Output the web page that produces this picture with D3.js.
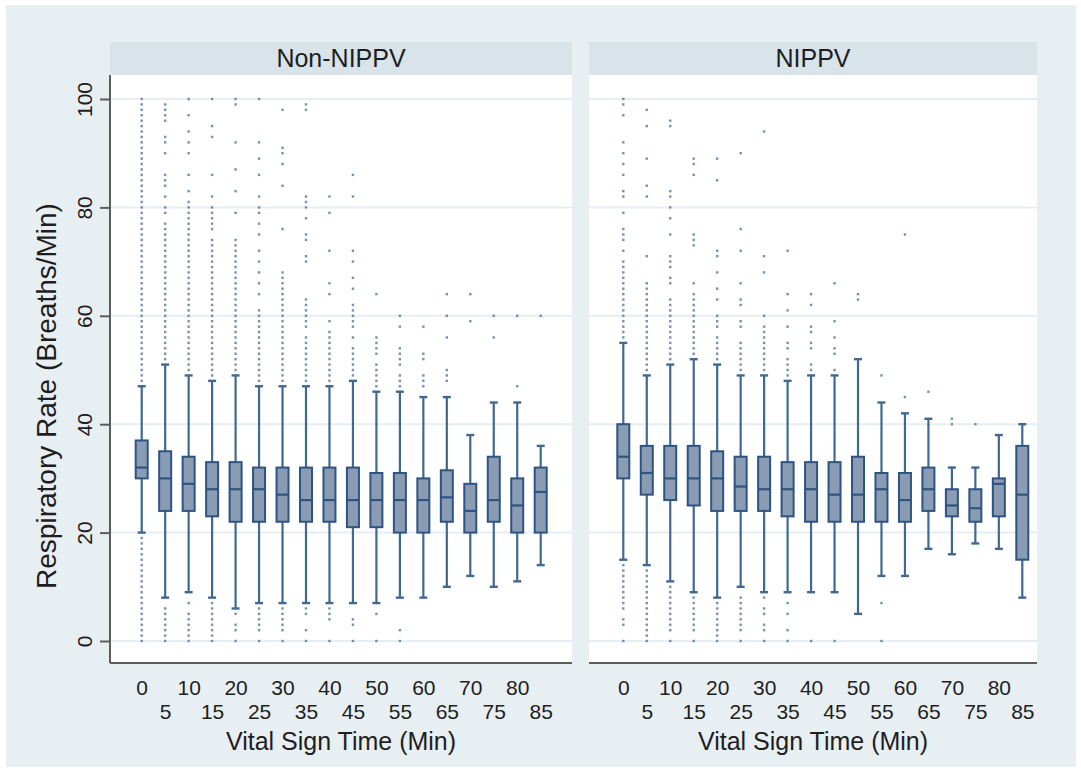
<!DOCTYPE html>
<html>
<head>
<meta charset="utf-8">
<script src="https://cdn.jsdelivr.net/npm/d3@7"></script>
<style>
  body { margin: 0; background: #fff; }
  svg { display: block; font-family: "Liberation Sans", Arial, sans-serif; }
</style>
</head>
<body>
<svg id="chart"></svg>
<script>
// categories
let times = [0, 5, 10, 15, 20, 25, 30, 35, 40, 45, 50, 55, 60, 65, 70, 75, 80, 85];
let yTicks = [0, 20, 40, 60, 80, 100];

// Non-NIPPV boxes
let nonLo  = [20, 8, 9, 8, 6, 7, 7, 7, 7, 7, 7, 8, 8, 10, 12, 10, 11, 14];
let nonQ1  = [30, 24, 24, 23, 22, 22, 22, 22, 22, 21, 21, 20, 20, 22, 20, 22, 20, 20];
let nonMed = [32, 30, 29, 28, 28, 28, 27, 26, 26, 26, 26, 26, 26, 26.5, 24, 26, 25, 27.5];
let nonQ3  = [37, 35, 34, 33, 33, 32, 32, 32, 32, 32, 31, 31, 30, 31.5, 29, 34, 30, 32];
let nonHi  = [47, 51, 49, 48, 49, 47, 47, 47, 47, 48, 46, 46, 45, 45, 38, 44, 44, 36];

// NIPPV boxes
let nipLo  = [15, 14, 11, 9, 8, 10, 9, 9, 9, 9, 5, 12, 12, 17, 16, 18, 17, 8];
let nipQ1  = [30, 27, 26, 25, 24, 24, 24, 23, 22, 22, 22, 22, 22, 24, 23, 22, 23, 15];
let nipMed = [34, 31, 30, 30, 30, 28.5, 28, 28, 28, 27, 27, 28, 26, 28, 25, 24.5, 29, 27];
let nipQ3  = [40, 36, 36, 36, 35, 34, 34, 33, 33, 33, 34, 31, 31, 32, 28, 28, 30, 36];
let nipHi  = [55, 49, 51, 52, 51, 49, 49, 48, 49, 49, 52, 44, 42, 41, 32, 32, 38, 40];

// outside values, one list per time
let nonOut = [
  [100,99,98,97,96,95,94,93,92,91,90,89,88,87,86,85,84,83,82,81,80,79,78,77,76,75,74,73,72,71,70,69,68,67,66,65,64,63,62,61,60,59,58,57,56,55,54,53,52,51,50,49,48,
   19,18,17,16,15,14,13,12,11,10,9,8,7,6,5,4,3,2,1,0],
  [99,98,97,96,93,92,90,86,85,84,82,80,79,77,76,75,74,73,72,71,70,69,68,67,66,65,64,63,62,61,60,59,58,57,56,55,54,53,52, 6,5,4,3,2,1,0],
  [100,97,94,92,90,86,83,81,80,79,78,77,76,75,74,73,72,71,70,69,68,67,66,65,64,63,62,61,60,59,58,57,56,55,54,53,52,51,50, 7,5,4,3,2,1,0],
  [100,95,93,86,82,80,79,78,77,76,74,73,72,71,70,69,68,67,66,65,64,63,62,61,60,59,58,57,56,55,54,53,52,51,50,49, 7,6,5,4,3,2,1,0],
  [100,99,92,87,83,79,74,73,72,71,70,69,68,67,66,65,64,63,62,61,60,59,58,57,56,55,54,53,52,51,50, 5,3,2,0],
  [100,92,89,86,82,80,79,77,75,72,70,68,66,64,61,60,59,58,57,56,55,54,53,52,51,50,49,48, 6,5,4,3,2,0],
  [98,91,90,88,84,76,68,67,66,65,64,63,62,61,60,59,58,57,56,55,54,53,52,51,50,49,48, 6,5,4,3,2,0],
  [99,98,82,81,80,78,75,74,71,70,63,62,61,60,59,58,56,55,54,53,52,51,50,49,48, 6,5,2,0],
  [82,79,72,66,64,59,57,56,55,54,53,52,51,50,49,48, 6,5,4,0],
  [86,82,72,70,67,65,62,61,60,59,58,56,54,53,52,51,50,49, 4,3,0],
  [64,56,55,54,53,51,50,49,48,47, 5,0],
  [60,58,54,53,52,51,49,48,47, 2,0],
  [58,53,52,49,48,47],
  [64,60,56,50,49,48],
  [64,59],
  [60,56],
  [60,47],
  [60]
];
let nipOut = [
  [100,99,97,92,90,88,86,83,82,79,76,75,74,72,70,69,68,67,66,65,64,63,62,61,60,59,58,57,56, 14,13,12,11,10,9,8,7,6,4,3,0],
  [98,95,89,84,82,71,66,65,64,63,62,61,60,59,58,57,56,55,54,53,52,51,50, 13,12,11,10,9,8,7,6,5,4,3,2,1,0],
  [96,95,83,82,80,78,75,71,70,69,67,66,63,62,61,60,59,58,57,56,55,54,53,52, 10,9,8,7,6,5,4,3,2,0],
  [89,88,86,75,74,73,66,64,63,62,61,60,59,58,57,56,55,54,53, 8,7,6,5,4,3,2,0],
  [89,85,72,71,68,65,63,60,59,58,56,55,54,53,52, 7,6,5,4,3,2,1,0],
  [90,76,72,66,63,62,59,58,55,54,53,52,51,50, 8,7,6,5,4,3,2,0],
  [94,71,68,60,58,57,56,55,54,53,52,51,50, 8,6,5,3,2,0],
  [72,64,61,58,55,54,52,51,50,49, 7,5,2,0],
  [64,62,58,57,55,54,51,50, 0],
  [66,59,56,54,53,50, 0],
  [64,63],
  [49, 7,0],
  [75,45],
  [46],
  [41,40],
  [40],
  [],
  []
];

let width = 1081;
let height = 773;

const svg = d3.select('#chart').attr('width', width).attr('height', height);

// page background
svg.append('rect').attr('x', 6).attr('y', 5).attr('width', 1070).attr('height', 762)
   .attr('fill', '#e8eff2');

let y = d3.scaleLinear().domain([0, 100]).range([641, 99]);

let panels = [
  { title: 'Non-NIPPV', left: 110, right: 572, first: 141.7, last: 540.7,
    lo: nonLo, q1: nonQ1, med: nonMed, q3: nonQ3, hi: nonHi, out: nonOut },
  { title: 'NIPPV', left: 589, right: 1037, first: 623.3, last: 1022.3,
    lo: nipLo, q1: nipQ1, med: nipMed, q3: nipQ3, hi: nipHi, out: nipOut }
];

let stripTop = 42, stripH = 33, plotTop = 75, plotBottom = 663;
let boxW = 12, capW = 8;
let boxFill = '#8a9cb3', boxLine = '#2d5483', whiskColor = '#406893', dotColor = '#4a6c95';

panels.forEach((p, pi) => {
  let g = svg.append('g');
  let x = d3.scalePoint().domain(times).range([p.first, p.last]);

  // header strip
  g.append('rect').attr('x', p.left).attr('y', stripTop).attr('width', p.right - p.left).attr('height', stripH)
   .attr('fill', '#d8e4ea');
  g.append('text').attr('x', (p.left + p.right) / 2).attr('y', stripTop + 25)
   .attr('text-anchor', 'middle').attr('font-size', 25).attr('fill', '#1e1e1e')
   .text(p.title);

  // plot region
  g.append('rect').attr('x', p.left).attr('y', plotTop).attr('width', p.right - p.left)
   .attr('height', plotBottom - plotTop).attr('fill', '#fff');

  // grid
  g.selectAll('.grid').data(yTicks).enter().append('line')
   .attr('x1', p.left).attr('x2', p.right)
   .attr('y1', d => y(d)).attr('y2', d => y(d))
   .attr('stroke', '#e6eef1').attr('stroke-width', 2);

  // outside values
  let pts = [];
  p.out.forEach((vals, i) => vals.forEach(v => pts.push([times[i], v])));
  g.selectAll('.dot').data(pts).enter().append('rect')
   .attr('x', d => x(d[0]) - 1.2).attr('y', d => y(d[1]) - 1.2)
   .attr('width', 2.4).attr('height', 2.4)
   .attr('fill', dotColor).attr('opacity', 0.75);

  let idx = d3.range(times.length);

  // whiskers
  g.selectAll('.wlo').data(idx).enter().append('line')
   .attr('x1', i => x(times[i])).attr('x2', i => x(times[i]))
   .attr('y1', i => y(p.lo[i])).attr('y2', i => y(p.q1[i]))
   .attr('stroke', whiskColor).attr('stroke-width', 2.2);
  g.selectAll('.whi').data(idx).enter().append('line')
   .attr('x1', i => x(times[i])).attr('x2', i => x(times[i]))
   .attr('y1', i => y(p.q3[i])).attr('y2', i => y(p.hi[i]))
   .attr('stroke', whiskColor).attr('stroke-width', 2.2);
  [p.lo, p.hi].forEach(arr => {
    g.selectAll(null).data(idx).enter().append('line')
     .attr('x1', i => x(times[i]) - capW / 2).attr('x2', i => x(times[i]) + capW / 2)
     .attr('y1', i => y(arr[i])).attr('y2', i => y(arr[i]))
     .attr('stroke', whiskColor).attr('stroke-width', 2.4);
  });

  // boxes
  g.selectAll('.box').data(idx).enter().append('rect')
   .attr('x', i => x(times[i]) - boxW / 2).attr('width', boxW)
   .attr('y', i => y(p.q3[i])).attr('height', i => y(p.q1[i]) - y(p.q3[i]))
   .attr('fill', boxFill).attr('stroke', boxLine).attr('stroke-width', 2);
  g.selectAll('.med').data(idx).enter().append('line')
   .attr('x1', i => x(times[i]) - boxW / 2).attr('x2', i => x(times[i]) + boxW / 2)
   .attr('y1', i => y(p.med[i])).attr('y2', i => y(p.med[i]))
   .attr('stroke', boxLine).attr('stroke-width', 2.2);

  // x axis
  let xAxis = d3.axisBottom(x).tickSize(0);
  let ax = g.append('g').attr('transform', 'translate(0,' + plotBottom + ')').call(xAxis);
  ax.select('.domain').remove();
  ax.selectAll('text')
    .attr('dy', 0)
    .attr('y', (d, i) => i % 2 ? 56 : 32)
    .attr('font-size', 21).attr('fill', '#1e1e1e')
    .attr('font-family', '"Liberation Sans", Arial, sans-serif');
  g.append('line').attr('x1', p.left).attr('x2', p.right)
   .attr('y1', plotBottom).attr('y2', plotBottom)
   .attr('stroke', '#5c5c5c').attr('stroke-width', 2);
  g.append('text').attr('x', (p.left + p.right) / 2).attr('y', 750)
   .attr('text-anchor', 'middle').attr('font-size', 25).attr('fill', '#1e1e1e')
   .text('Vital Sign Time (Min)');

  // y axis on first panel only
  if (pi === 0) {
    let yAxis = d3.axisLeft(y).tickValues(yTicks).tickSize(10).tickSizeOuter(0);
    let ay = g.append('g').attr('transform', 'translate(' + p.left + ',0)').call(yAxis);
    ay.select('.domain').remove();
    ay.selectAll('.tick line').attr('stroke', '#5c5c5c').attr('stroke-width', 2);
    ay.selectAll('text')
      .attr('x', 0).attr('y', -18).attr('dy', 0)
      .attr('transform', 'rotate(-90)')
      .attr('text-anchor', 'middle')
      .attr('font-size', 21).attr('fill', '#1e1e1e')
      .attr('font-family', '"Liberation Sans", Arial, sans-serif');
    g.append('line').attr('x1', p.left).attr('x2', p.left)
     .attr('y1', plotTop).attr('y2', plotBottom)
     .attr('stroke', '#5c5c5c').attr('stroke-width', 2);
  }
});

svg.append('text')
   .attr('transform', 'translate(56,396) rotate(-90)')
   .attr('text-anchor', 'middle').attr('font-size', 28).attr('fill', '#1e1e1e')
   .text('Respiratory Rate (Breaths/Min)');
</script>
</body>
</html>
